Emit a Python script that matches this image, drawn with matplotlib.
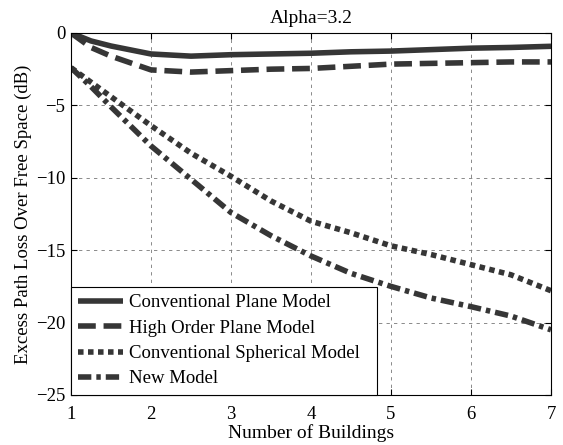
import matplotlib
matplotlib.use('Agg')
import matplotlib.pyplot as plt
import numpy as np

plt.rcParams['font.family'] = ['Liberation Serif', 'DejaVu Serif']

# values
buildings = [1, 1.25, 1.5, 2, 2.5, 3, 3.5, 4, 4.5, 5, 5.5, 6, 6.5, 7]
conv_plane = [0, -0.55, -0.9, -1.45, -1.6, -1.5, -1.45, -1.4, -1.3, -1.25, -1.15, -1.05, -1.0, -0.92]
high_order = [0, -1.0, -1.6, -2.55, -2.7, -2.6, -2.5, -2.45, -2.3, -2.15, -2.1, -2.05, -2.0, -2.0]
conv_spher = [-2.4, -3.4, -4.4, -6.4, -8.3, -9.9, -11.6, -13.0, -13.8, -14.7, -15.3, -16.0, -16.7, -17.8]
new_model = [-2.4, -3.7, -5.1, -7.8, -10.1, -12.4, -14.0, -15.4, -16.6, -17.5, -18.3, -18.9, -19.55, -20.5]

labels = ['Conventional Plane Model', 'High Order Plane Model',
          'Conventional Spherical Model', 'New Model']

fig = plt.figure(figsize=(5.63, 4.45), dpi=100)
ax = fig.add_axes([0.1261, 0.1124, 0.8526, 0.8135])

col = '#363636'
lw = 4
ax.plot(buildings, conv_plane, color=col, lw=lw, solid_capstyle='butt', label=labels[0])
ax.plot(buildings, high_order, color=col, lw=lw, dashes=(3.2, 1.4), dash_capstyle='butt', label=labels[1])
ax.plot(buildings, conv_spher, color=col, lw=lw, dashes=(1.0, 0.8), dash_capstyle='butt', label=labels[2])
ax.plot(buildings, new_model, color=col, lw=lw, dashes=(2.4, 0.9, 0.8, 0.9), dash_capstyle='butt', label=labels[3])

ax.set_xlim(1, 7)
ax.set_ylim(-25, 0)
ax.set_xticks([1, 2, 3, 4, 5, 6, 7])
ax.set_yticks([-25, -20, -15, -10, -5, 0])
ax.grid(True, color='#777777', linestyle=(0, (4, 5)), linewidth=0.6)
ax.tick_params(direction='in', labelsize=13.5, top=True, right=True, length=4)
ax.tick_params(axis='x', pad=8)
ax.tick_params(axis='y', pad=4)
for s in ax.spines.values():
    s.set_linewidth(0.8)

ax.set_title('Alpha=3.2', fontsize=14, pad=7)
ax.set_xlabel('Number of Buildings', fontsize=14, labelpad=1)
ax.set_ylabel('Excess Path Loss Over Free Space (dB)', fontsize=13.5, labelpad=3)

# legend box stretched to the width it has in the reference
leg = ax.legend(loc='lower left', bbox_to_anchor=(0, 0, 0.6375, 0.3), mode='expand',
                borderaxespad=0, fontsize=13.5, handlelength=2.4, handletextpad=0.3,
                labelspacing=0.44, fancybox=False, framealpha=1,
                edgecolor='black', borderpad=0.4)
leg.get_frame().set_linewidth(0.8)

fig.savefig('out.png', dpi=100)
